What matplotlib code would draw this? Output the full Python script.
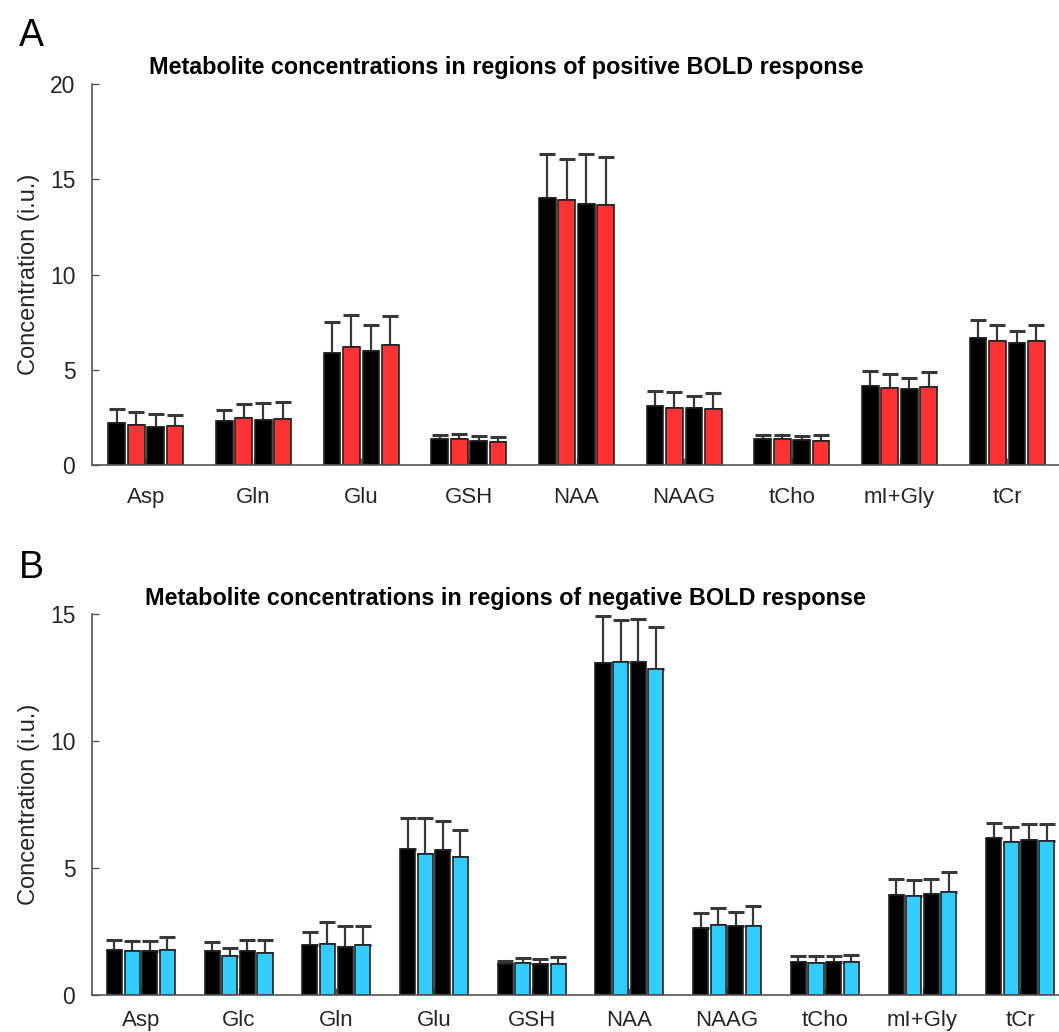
import matplotlib
matplotlib.use('Agg')
import matplotlib.pyplot as plt
import numpy as np

plt.rcParams['font.family'] = ['Liberation Sans', 'DejaVu Sans']

# Positive BOLD regions: four bars per metabolite (black / red / black / red)
pos_labels = ["Asp", "Gln", "Glu", "GSH", "NAA", "NAAG", "tCho", "mI+Gly", "tCr"]
pos_mean = [
    [2.20, 2.33, 5.86, 1.34, 14.00, 3.10, 1.35, 4.15, 6.65],
    [2.10, 2.47, 6.18, 1.34, 13.89, 3.00, 1.35, 4.05, 6.51],
    [1.98, 2.36, 5.98, 1.28, 13.70, 2.98, 1.32, 3.98, 6.42],
    [2.05, 2.41, 6.30, 1.23, 13.63, 2.93, 1.28, 4.12, 6.51],
]
pos_sd = [
    [0.74, 0.56, 1.63, 0.26, 2.34, 0.80, 0.21, 0.80, 0.95],
    [0.68, 0.72, 1.67, 0.31, 2.16, 0.82, 0.21, 0.73, 0.86],
    [0.71, 0.89, 1.37, 0.23, 2.64, 0.66, 0.19, 0.59, 0.63],
    [0.55, 0.89, 1.50, 0.25, 2.54, 0.84, 0.28, 0.75, 0.84],
]

# Negative BOLD regions (black / blue / black / blue)
neg_labels = ["Asp", "Glc", "Gln", "Glu", "GSH", "NAA", "NAAG", "tCho", "mI+Gly", "tCr"]
neg_mean = [
    [1.75, 1.73, 1.97, 5.75, 1.22, 13.08, 2.62, 1.29, 3.95, 6.16],
    [1.74, 1.52, 1.99, 5.55, 1.24, 13.11, 2.74, 1.27, 3.90, 6.02],
    [1.72, 1.73, 1.90, 5.72, 1.20, 13.10, 2.70, 1.29, 3.97, 6.10],
    [1.78, 1.64, 1.95, 5.45, 1.22, 12.82, 2.71, 1.31, 4.07, 6.06],
]
neg_sd = [
    [0.41, 0.37, 0.49, 1.20, 0.13, 1.82, 0.60, 0.23, 0.61, 0.59],
    [0.37, 0.33, 0.87, 1.40, 0.21, 1.67, 0.69, 0.25, 0.61, 0.59],
    [0.42, 0.44, 0.81, 1.13, 0.20, 1.69, 0.57, 0.23, 0.61, 0.63],
    [0.51, 0.51, 0.75, 1.05, 0.26, 1.66, 0.79, 0.27, 0.78, 0.67],
]

RED = "#ff3333"
BLUE = "#33ccff"
AXIS_GREY = "#555555"
TEXT_GREY = "#262626"
OFFSETS = [-0.27, -0.09, 0.09, 0.27]
BAR_W = 0.155


def draw_panel(ax, labels, means, sds, color, ymax, yticks, xpad):
    x = np.arange(1, len(labels) + 1)
    colors = ["black", color, "black", color]
    for i, (m, s) in enumerate(zip(means, sds)):
        xs = x + OFFSETS[i]
        ax.errorbar(xs, m, yerr=[np.zeros(len(m)), s], fmt="none",
                    ecolor="#383838", elinewidth=1.6, capsize=6, capthick=2.2,
                    zorder=1)
        ax.bar(xs, m, width=BAR_W, color=colors[i], edgecolor="#222222",
               linewidth=1.2, zorder=2)

    ax.set_xlim(0.5, len(labels) + 0.5)
    ax.set_ylim(0, ymax)
    ax.set_yticks(yticks)
    ax.set_xticks(x)
    ax.set_xticklabels(labels)
    ax.tick_params(axis="both", direction="in", colors=AXIS_GREY,
                   labelcolor=TEXT_GREY, width=1, length=5)
    ax.tick_params(axis="x", pad=xpad, labelsize=16)
    ax.tick_params(axis="y", pad=12, labelsize=16.5)
    for side in ("top", "right"):
        ax.spines[side].set_visible(False)
    for side in ("left", "bottom"):
        ax.spines[side].set_color(AXIS_GREY)
        ax.spines[side].set_linewidth(1.2)
    ax.set_ylabel("Concentration (i.u.)", fontsize=17, color=TEXT_GREY,
                  labelpad=7)


fig = plt.figure(figsize=(10.59, 10.32), dpi=100)

ax_a = fig.add_axes([0.0869, 0.5494, 0.915, 0.3692])
draw_panel(ax_a, pos_labels, pos_mean, pos_sd, RED, 20, [0, 5, 10, 15, 20], 16)

ax_b = fig.add_axes([0.0869, 0.0359, 0.9226, 0.3692])
draw_panel(ax_b, neg_labels, neg_mean, neg_sd, BLUE, 15, [0, 5, 10, 15], 11)

fig.text(0.478, 0.935, "Metabolite concentrations in regions of positive BOLD response",
         ha="center", va="center", fontsize=16.8, fontweight="bold")
fig.text(0.477, 0.420, "Metabolite concentrations in regions of negative BOLD response",
         ha="center", va="center", fontsize=16.8, fontweight="bold")

fig.text(0.018, 0.965, "A", fontsize=27, ha="left", va="center")
fig.text(0.018, 0.450, "B", fontsize=27, ha="left", va="center")

fig.savefig("out.png", dpi=100)
plt.close(fig)
